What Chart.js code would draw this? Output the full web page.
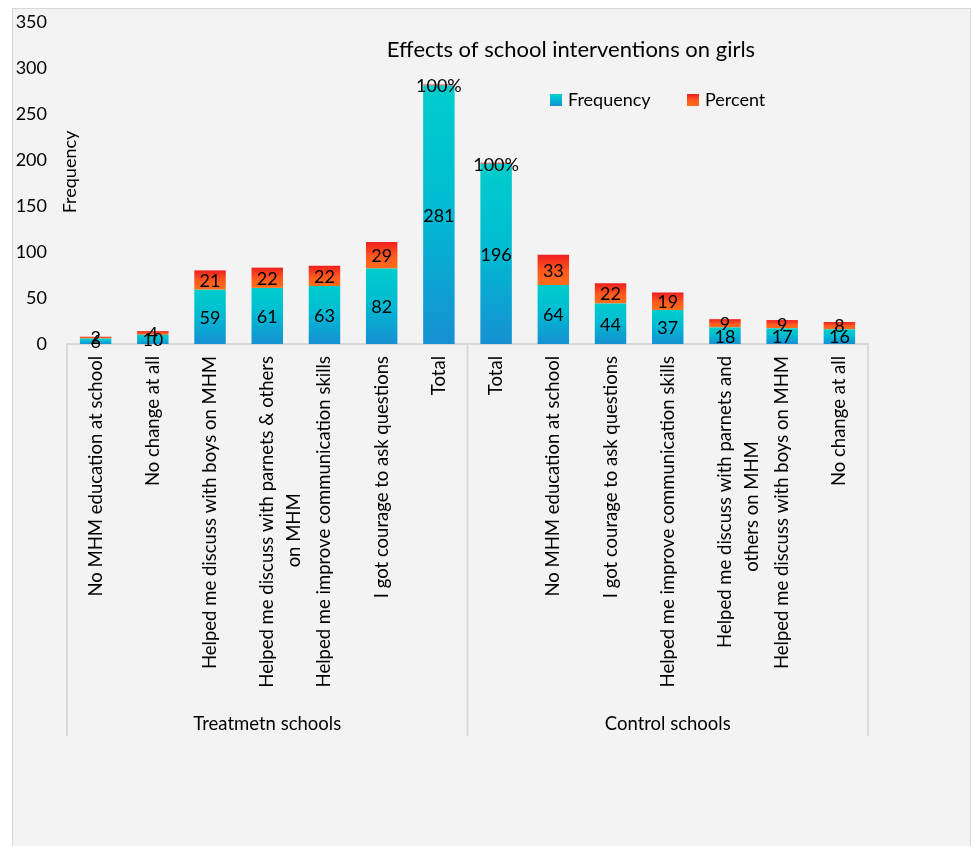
<!DOCTYPE html>
<html>
<head>
<meta charset="utf-8">
<style>
  html, body { margin: 0; padding: 0; background: #fff; }
  #wrap { position: relative; width: 973px; height: 846px; }
</style>
</head>
<body>
<div id="wrap"><canvas id="girlsChart"></canvas></div>

<script src="https://cdnjs.cloudflare.com/ajax/libs/Chart.js/4.4.1/chart.umd.js"></script>
<script>
  const categories = [
    'No MHM education at school',
    'No change at all',
    'Helped me discuss with boys on MHM',
    ['Helped me discuss with parnets & others', 'on MHM' + ' '.repeat(29)],
    'Helped me improve communication skills',
    'I got courage to ask questions',
    'Total',
    'Total',
    'No MHM education at school',
    'I got courage to ask questions',
    'Helped me improve communication skills',
    ['Helped me discuss with parnets and', 'others on MHM' + ' '.repeat(18)],
    'Helped me discuss with boys on MHM',
    'No change at all'
  ];
  const groups = ['Treatmetn schools', 'Control schools'];
  const frequency = [6, 10, 59, 61, 63, 82, 281, 196, 64, 44, 37, 18, 17, 16];
  // totals carry 100% stored as 1
  const percent = [2, 4, 21, 22, 22, 29, 1, 1, 33, 22, 19, 9, 9, 8];
  const percentLabels = ['2', '4', '21', '22', '22', '29', '100%', '100%', '33', '22', '19', '9', '9', '8'];
  const yTicks = [0, 50, 100, 150, 200, 250, 300, 350];

  const FONT = 'Lato, "Open Sans", sans-serif';
  const blueStops = [[0, '#00cdcc'], [0.45, '#00bcd2'], [1, '#1690d2']];
  const redStops = [[0, '#ee1f1f'], [0.55, '#ff5a1e'], [1, '#ff6e1a']];

  function gradFill(stops, baseArr) {
    return function (c) {
      const chart = c.chart, y = chart.scales.y;
      if (!y || c.type !== 'data') return stops[1][1];
      const lo = baseArr ? baseArr[c.dataIndex] : 0;
      const top = y.getPixelForValue(lo + c.raw), bot = y.getPixelForValue(lo);
      if (!isFinite(top) || !isFinite(bot) || Math.abs(bot - top) < 1) return stops[0][1];
      const g = chart.ctx.createLinearGradient(0, top, 0, bot);
      stops.forEach(s => g.addColorStop(s[0], s[1]));
      return g;
    };
  }

  const overlay = {
    id: 'overlay',
    beforeDraw(chart) {
      const ctx = chart.ctx;
      ctx.save();
      ctx.fillStyle = '#ffffff';
      ctx.fillRect(0, 0, chart.width, chart.height);
      ctx.fillStyle = '#f3f3f3';
      ctx.fillRect(12, 8, 959, 838);
      ctx.strokeStyle = '#d9d9d9';
      ctx.lineWidth = 1;
      ctx.strokeRect(12.5, 8.5, 958, 840);
      ctx.restore();
    },
    afterDraw(chart) {
      const ctx = chart.ctx, x = chart.scales.x, x2 = chart.scales.x2;
      ctx.save();
      // group separators
      ctx.strokeStyle = '#d9d9d9';
      ctx.lineWidth = 2;
      [x.left, (x.left + x.right) / 2, x.right].forEach(px => {
        ctx.beginPath();
        ctx.moveTo(px, x.top);
        ctx.lineTo(px, x2.bottom - 3);
        ctx.stroke();
      });
      // title
      ctx.fillStyle = '#000';
      ctx.textAlign = 'center';
      ctx.textBaseline = 'middle';
      ctx.font = '22px ' + FONT;
      ctx.fillText('Effects of school interventions on girls', 571, 50);
      // legend
      ctx.font = '18px ' + FONT;
      ctx.textAlign = 'left';
      const items = [['Frequency', blueStops, 550], ['Percent', redStops, 687]];
      items.forEach(([txt, stops, lx]) => {
        const g = ctx.createLinearGradient(0, 94, 0, 106);
        stops.forEach(s => g.addColorStop(s[0], s[1]));
        ctx.fillStyle = g;
        ctx.fillRect(lx, 94, 12, 12);
        ctx.fillStyle = '#000';
        ctx.fillText(txt, lx + 18, 100);
      });
      // y axis title
      ctx.translate(70, 172);
      ctx.rotate(-Math.PI / 2);
      ctx.textAlign = 'center';
      ctx.font = '18px ' + FONT;
      ctx.fillText('Frequency', 0, 0);
      ctx.restore();
    },
    afterDatasetsDraw(chart) {
      const ctx = chart.ctx;
      const fMeta = chart.getDatasetMeta(0), pMeta = chart.getDatasetMeta(1);
      ctx.save();
      ctx.fillStyle = '#000';
      ctx.font = '18px ' + FONT;
      ctx.textAlign = 'center';
      ctx.textBaseline = 'middle';
      fMeta.data.forEach((el, i) => {
        ctx.fillText(String(frequency[i]), el.x, (el.y + el.base) / 2 + 1);
      });
      pMeta.data.forEach((el, i) => {
        const yy = percentLabels[i].indexOf('%') > -1 ? el.y + 2 : (el.y + el.base) / 2 + 1;
        ctx.fillText(percentLabels[i], el.x, yy);
      });
      ctx.restore();
    }
  };

  new Chart(document.getElementById('girlsChart'), {
    type: 'bar',
    data: {
      labels: categories,
      datasets: [
        {
          label: 'Frequency', data: frequency,
          backgroundColor: gradFill(blueStops, null),
          borderWidth: 0,
          categoryPercentage: 1, barPercentage: 0.55
        },
        {
          label: 'Percent', data: percent,
          backgroundColor: gradFill(redStops, frequency),
          borderWidth: 0,
          categoryPercentage: 1, barPercentage: 0.55
        }
      ]
    },
    options: {
      responsive: true,
      maintainAspectRatio: false,
      animation: false,
      layout: { padding: { left: 12, right: 105, top: 22, bottom: 107 } },
      scales: {
        x: {
          stacked: true,
          grid: { display: false, drawTicks: false },
          border: { display: true, color: '#d9d9d9', width: 2 },
          ticks: {
            autoSkip: false, minRotation: 90, maxRotation: 90, padding: 12,
            color: '#000', font: { family: FONT, size: 18.5, lineHeight: 1.45 }
          },
          afterFit(s) { s.height = 365; }
        },
        x2: {
          type: 'category',
          labels: groups,
          position: 'bottom',
          grid: { display: false, drawTicks: false },
          border: { display: false },
          ticks: { color: '#000', padding: 4, maxRotation: 0, font: { family: FONT, size: 18.5 } },
          afterFit(s) { s.height = 30; }
        },
        y: {
          stacked: true,
          min: 0, max: 350,
          afterBuildTicks(s) { s.ticks = yTicks.map(v => ({ value: v })); },
          grid: { display: false, drawTicks: false },
          border: { display: false },
          ticks: { padding: 20, color: '#000', font: { family: FONT, size: 18 } },
          afterFit(s) { s.width = 55; s.paddingTop = 0; s.paddingBottom = 0; }
        }
      },
      plugins: {
        legend: { display: false },
        title: { display: false },
        tooltip: { enabled: false }
      }
    },
    plugins: [overlay]
  });
</script>
</body>
</html>
